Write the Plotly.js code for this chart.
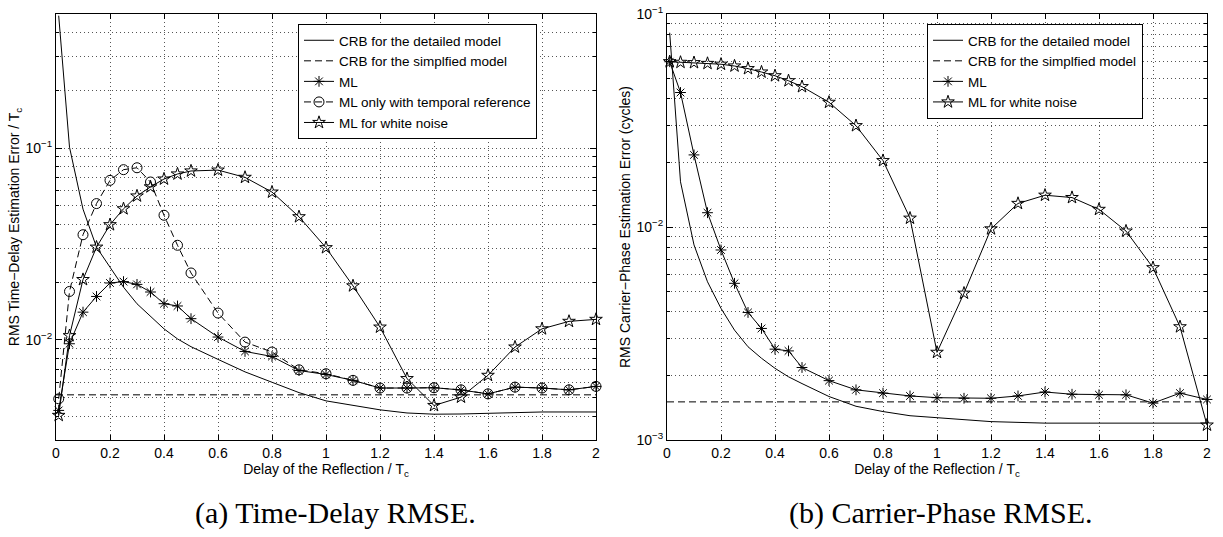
<!DOCTYPE html>
<html>
<head>
<meta charset="utf-8">
<script src="https://cdn.plot.ly/plotly-3.0.1.min.js"></script>
<style>html,body{margin:0;padding:0;background:#fff;}#chart{width:1223px;height:537px;}</style>
</head>
<body>
<div id="chart"></div>
<script>
// ---------- data ----------
const delay = [0.01, 0.05, 0.1, 0.15, 0.2, 0.25, 0.3, 0.35, 0.4, 0.45, 0.5, 0.6, 0.7, 0.8, 0.9, 1.0, 1.1, 1.2, 1.3, 1.4, 1.5, 1.6, 1.7, 1.8, 1.9, 2.0];
const delaySimplified = [0, 2];

// (a) Time-delay RMSE / Tc
const crbDetailedTD = [0.49, 0.101, 0.048, 0.0304, 0.0239, 0.0188, 0.0154, 0.0132, 0.0114, 0.0101, 0.0092, 0.0079, 0.0068, 0.0060, 0.0053, 0.0048, 0.00454, 0.00431, 0.00415, 0.00409, 0.0041, 0.00413, 0.00418, 0.0042, 0.0042, 0.0042];
const crbSimplifiedTD = [0.00516, 0.00516];
const mlTD = [0.00428, 0.00953, 0.01393, 0.01682, 0.01977, 0.0201, 0.01944, 0.01774, 0.01542, 0.0150, 0.01288, 0.01033, 0.00869, 0.00818, 0.00691, 0.00659, 0.00614, 0.0056, 0.0056, 0.00562, 0.00547, 0.00522, 0.00566, 0.0056, 0.00548, 0.00571];
const mlTemporalTD = [0.00492, 0.01786, 0.0353, 0.0513, 0.0678, 0.0771, 0.0789, 0.0665, 0.0446, 0.0311, 0.0223, 0.01378, 0.00972, 0.00863, 0.00697, 0.00665, 0.00614, 0.0056, 0.0056, 0.00562, 0.00548, 0.00522, 0.00566, 0.0056, 0.00548, 0.00571];
const mlWhiteTD = [0.00403, 0.0105, 0.0206, 0.0304, 0.0398, 0.0482, 0.0562, 0.0627, 0.0689, 0.0732, 0.0759, 0.0767, 0.0703, 0.0589, 0.0438, 0.0302, 0.0191, 0.01164, 0.00627, 0.00454, 0.00502, 0.00652, 0.00916, 0.0114, 0.01247, 0.01277];

// (b) Carrier-phase RMSE (cycles)
const crbDetailedCP = [0.0817, 0.0163, 0.00824, 0.00553, 0.00415, 0.00328, 0.00274, 0.00242, 0.00217, 0.00198, 0.00184, 0.0016, 0.00144, 0.00136, 0.0013, 0.00127, 0.00124, 0.00122, 0.00121, 0.0012, 0.0012, 0.0012, 0.0012, 0.0012, 0.0012, 0.0012];
const crbSimplifiedCP = [0.00151, 0.00151];
const mlCP = [0.0597, 0.0428, 0.0218, 0.01167, 0.0078, 0.00544, 0.00397, 0.00334, 0.00267, 0.00262, 0.00219, 0.0019, 0.00172, 0.00166, 0.00161, 0.00158, 0.00157, 0.00157, 0.00161, 0.00168, 0.00164, 0.00163, 0.00163, 0.00149, 0.00166, 0.00155];
const mlWhiteCP = [0.0597, 0.0593, 0.0591, 0.0586, 0.0581, 0.057, 0.0554, 0.0534, 0.0513, 0.0486, 0.0456, 0.0385, 0.0299, 0.0205, 0.0110, 0.00258, 0.00489, 0.0098, 0.0129, 0.0141, 0.01375, 0.0121, 0.00957, 0.00644, 0.0034, 0.001175];

// tick labels
const xTickVals = [0, 0.2, 0.4, 0.6, 0.8, 1, 1.2, 1.4, 1.6, 1.8, 2];
const xTickText = ['0', '0.2', '0.4', '0.6', '0.8', '1', '1.2', '1.4', '1.6', '1.8', '2'];
const yMajorTD = [0.01, 0.1];
const yMajorTextTD = ['10<sup>−2</sup>', '10<sup>−1</sup>'];
const yMinorTD = [0.003, 0.004, 0.005, 0.006, 0.007, 0.008, 0.009, 0.02, 0.03, 0.04, 0.05, 0.06, 0.07, 0.08, 0.09, 0.2, 0.3, 0.4, 0.5];
const yMajorCP = [0.001, 0.01, 0.1];
const yMajorTextCP = ['10<sup>−3</sup>', '10<sup>−2</sup>', '10<sup>−1</sup>'];
const yMinorCP = [0.002, 0.003, 0.004, 0.005, 0.006, 0.007, 0.008, 0.009, 0.02, 0.03, 0.04, 0.05, 0.06, 0.07, 0.08, 0.09];

const legendNames = ['CRB for the detailed model', 'CRB for the simplfied model', 'ML', 'ML only with temporal reference', 'ML for white noise'];
const captions = ['(a) Time-Delay RMSE.', '(b) Carrier-Phase RMSE.'];

// ---------- styling ----------
const FONT = 'Liberation Sans, Arial, Helvetica, sans-serif';
const SERIF = 'Liberation Serif, DejaVu Serif, serif';
const black = '#000';
const dashed = '7px,4px';
const GRID = '#555';
const GRIDDASH = '1px,3px';

function solid(x, y, name, xa, ya, leg) {
  return {x, y, name, xaxis: xa, yaxis: ya, legend: leg, mode: 'lines',
          line: {color: black, width: 1}, hoverinfo: 'skip'};
}
function dash(x, y, name, xa, ya, leg) {
  return {x, y, name, xaxis: xa, yaxis: ya, legend: leg, mode: 'lines',
          line: {color: black, width: 1, dash: dashed}, hoverinfo: 'skip'};
}
function marked(x, y, name, xa, ya, leg, symbol, size, lineDash) {
  return {x, y, name, xaxis: xa, yaxis: ya, legend: leg, mode: 'lines+markers', cliponaxis: false,
          line: {color: black, width: 1, dash: lineDash || 'solid'},
          marker: {symbol, size, color: black, line: {color: black, width: 1}}, hoverinfo: 'skip'};
}

const traces = [
  solid(delay, crbDetailedTD, legendNames[0], 'x', 'y', 'legend'),
  dash(delaySimplified, crbSimplifiedTD, legendNames[1], 'x', 'y', 'legend'),
  marked(delay, mlTD, legendNames[2], 'x', 'y', 'legend', 'asterisk-open', 9),
  marked(delay, mlTemporalTD, legendNames[3], 'x', 'y', 'legend', 'circle-open', 10, dashed),
  marked(delay, mlWhiteTD, legendNames[4], 'x', 'y', 'legend', 'star-open', 9.5),

  solid(delay, crbDetailedCP, legendNames[0], 'x2', 'y2', 'legend2'),
  dash(delaySimplified, crbSimplifiedCP, legendNames[1], 'x2', 'y2', 'legend2'),
  marked(delay, mlCP, legendNames[2], 'x2', 'y2', 'legend2', 'asterisk-open', 9),
  marked(delay, mlWhiteCP, legendNames[4], 'x2', 'y2', 'legend2', 'star-open', 9.5)
];

const W = 1223, H = 537;
const px = v => v / W;
const py = v => 1 - v / H;

function xAxis(domain, anchor) {
  return {
    domain, anchor, range: [0, 2], tickmode: 'array', tickvals: xTickVals, ticktext: xTickText,
    ticks: 'inside', ticklen: 5, tickcolor: black, mirror: 'ticks', showline: true, linecolor: black, linewidth: 1,
    showgrid: true, gridcolor: GRID, griddash: GRIDDASH, gridwidth: 1, zeroline: false,
    tickfont: {family: FONT, size: 14, color: black},
    title: {text: 'Delay of the Reflection / T<sub>c</sub>', font: {family: FONT, size: 14, color: black}, standoff: 3},
    automargin: false, fixedrange: true
  };
}
function yAxis(domain, anchor, range, tickvals, ticktext, minorvals, title) {
  return {
    domain, anchor, type: 'log', range, tickmode: 'array', tickvals, ticktext,
    ticks: 'inside', ticklen: 6, tickcolor: black, mirror: 'ticks', showline: true, linecolor: black, linewidth: 1,
    showgrid: true, gridcolor: GRID, griddash: GRIDDASH, gridwidth: 1, zeroline: false,
    minor: {tickmode: 'array', tickvals: minorvals, ticks: 'inside', ticklen: 3, tickcolor: black,
            showgrid: true, gridcolor: GRID, griddash: GRIDDASH, gridwidth: 1},
    tickfont: {family: FONT, size: 14, color: black},
    title: {text: title, font: {family: FONT, size: 14, color: black}, standoff: 2},
    automargin: false, fixedrange: true
  };
}

const legendStyle = (x, y) => ({
  x, y, xanchor: 'left', yanchor: 'top', xref: 'paper', yref: 'paper',
  bgcolor: '#fff', bordercolor: black, borderwidth: 1, tracegroupgap: 0,
  font: {family: FONT, size: 13.5, color: black}, traceorder: 'normal'
});

const layout = {
  width: W, height: H, margin: {l: 0, r: 0, t: 0, b: 0},
  paper_bgcolor: '#fff', plot_bgcolor: '#fff', showlegend: true,
  font: {family: FONT, size: 14, color: black},
  xaxis: xAxis([px(56), px(596)], 'y'),
  yaxis: yAxis([py(440), py(14)], 'x', [Math.log10(0.003), Math.log10(0.5)], yMajorTD, yMajorTextTD, yMinorTD, 'RMS Time−Delay Estimation Error / T<sub>c</sub>'),
  xaxis2: xAxis([px(667), px(1207)], 'y2'),
  yaxis2: yAxis([py(440), py(14)], 'x2', [-3, -1], yMajorCP, yMajorTextCP, yMinorCP, 'RMS Carrier−Phase Estimation Error (cycles)'),
  legend: legendStyle(px(298), py(24)),
  legend2: legendStyle(px(927), py(24)),
  annotations: [
    {text: captions[0], xref: 'paper', yref: 'paper', x: px(336), y: py(513), xanchor: 'center', yanchor: 'middle', showarrow: false,
     font: {family: SERIF, size: 30, color: black}},
    {text: captions[1], xref: 'paper', yref: 'paper', x: px(941), y: py(513), xanchor: 'center', yanchor: 'middle', showarrow: false,
     font: {family: SERIF, size: 30, color: black}}
  ]
};

Plotly.newPlot('chart', traces, layout, {staticPlot: true, displayModeBar: false});
</script>
</body>
</html>
